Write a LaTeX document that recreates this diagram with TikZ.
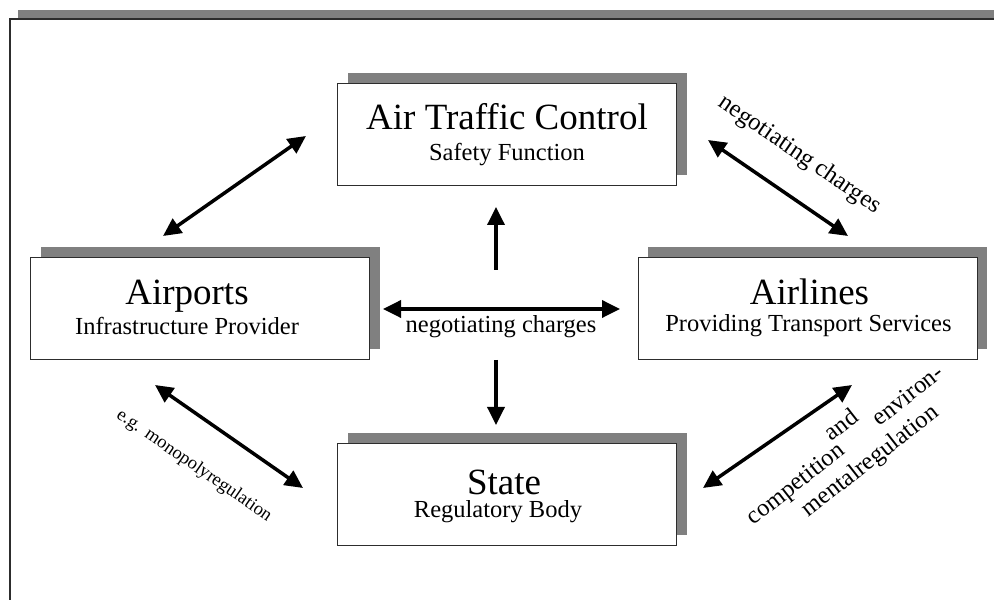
\documentclass[tikz,border=0pt]{standalone}
\usepackage{fontspec}
\setmainfont{Liberation Serif}
\usepackage{tikz}
\usetikzlibrary{arrows.meta,shadows}
\definecolor{shadowgray}{RGB}{128,128,128}
\definecolor{linegray}{RGB}{45,45,45}

\begin{document}
\begin{tikzpicture}[x=1pt,y=1pt,
	box/.style={draw=linegray, line width=0.9pt, fill=white, minimum width=339pt, minimum height=102pt, inner sep=0pt, outer sep=0pt, general shadow={fill=shadowgray, shadow xshift=10pt, shadow yshift=10pt}},
	boxtitle/.style={anchor=base, inner sep=0pt, font=\fontsize{37}{40}\selectfont},
	boxsub/.style={anchor=base, inner sep=0pt, font=\fontsize{24.5}{28}\selectfont},
	lab/.style={inner sep=0pt, font=\fontsize{24.5}{28}\selectfont},
	smalllab/.style={inner sep=0pt, font=\fontsize{18.5}{20}\selectfont},
	link/.style={line width=3.5pt, {Triangle[length=18pt,width=17pt]}-{Triangle[length=18pt,width=17pt]}},
	onelink/.style={line width=3.5pt, -{Triangle[length=18pt,width=17pt]}}]
	
	\useasboundingbox (0,0) rectangle (994,600);
	\clip (0,0) rectangle (994,600);
	\draw[linegray, fill=white, line width=1.3pt, general shadow={fill=shadowgray, shadow xshift=8pt, shadow yshift=9pt}] (10,581) rectangle (1040,-40);
	
	\node[box] (atc) at (507,466) {};
	\node[box] (airports) at (200,292) {};
	\node[box] (airlines) at (807.5,292) {};
	\node[box] (state) at (507,105.5) {};
	
	\node[boxtitle] (atc-t) at ([yshift=4pt]atc.center) {Air Traffic Control};
	\node[boxsub] (atc-s) at ([yshift=-27pt]atc.center) {Safety Function};
	\node[boxtitle] (airports-t) at ([shift={(-13,3)}]airports.center) {Airports};
	\node[boxsub] (airports-s) at ([shift={(-13,-27)}]airports.center) {Infrastructure Provider};
	\node[boxtitle] (airlines-t) at ([shift={(2,3)}]airlines.center) {Airlines};
	\node[boxsub] (airlines-s) at ([shift={(1,-24)}]airlines.center) {Providing Transport Services};
	\node[boxtitle] (state-t) at ([shift={(-3,0)}]state.center) {State};
	\node[boxsub] (state-s) at ([shift={(-9,-23.5)}]state.center) {Regulatory Body};
	
	\draw[link] ([shift={(-37,21)}]airports.north) -- ([shift={(-31.5,-2)}]atc.west);
	\draw[link] ([shift={(31.5,-6)}]atc.east) -- ([shift={(40.5,21)}]airlines.north);
	\draw[link] ([shift={(-45,-26)}]airports.south) -- ([shift={(-34.5,6.5)}]state.west);
	\draw[link] ([shift={(26.5,6.5)}]state.east) -- ([shift={(44.5,-26)}]airlines.south);
	\draw[link] ([shift={(13.5,-1)}]airports.east) -- ([shift={(-18,-1)}]airlines.west);
	
	\coordinate (hubup) at (496,330);
	\coordinate (hubdown) at (496,240);
	\draw[onelink] (hubup) -- ([shift={(-11,-22)}]atc.south);
	\draw[onelink] (hubdown) -- ([shift={(-11,18.5)}]state.north);
	
	\node[lab] (charges) at (501,273.5) {negotiating charges};
	\node[lab, rotate=-34.4] (charges-atc) at (799.5,445) {negotiating charges};
	\node[smalllab, rotate=-34.6] (monopoly) at (193.9,134.2) {e.g.\hspace{7.6pt}monopolyregulation};
	\node[lab, rotate=38] (competition) at (796.7,115) {competition};
	\node[lab, rotate=38] (and) at (840.7,175.7) {and};
	\node[lab, rotate=38] (environ) at (907.3,205) {environ-};
	\node[lab, rotate=38] (mental) at (870.7,138.3) {mentalregulation};
\end{tikzpicture}
\end{document}
